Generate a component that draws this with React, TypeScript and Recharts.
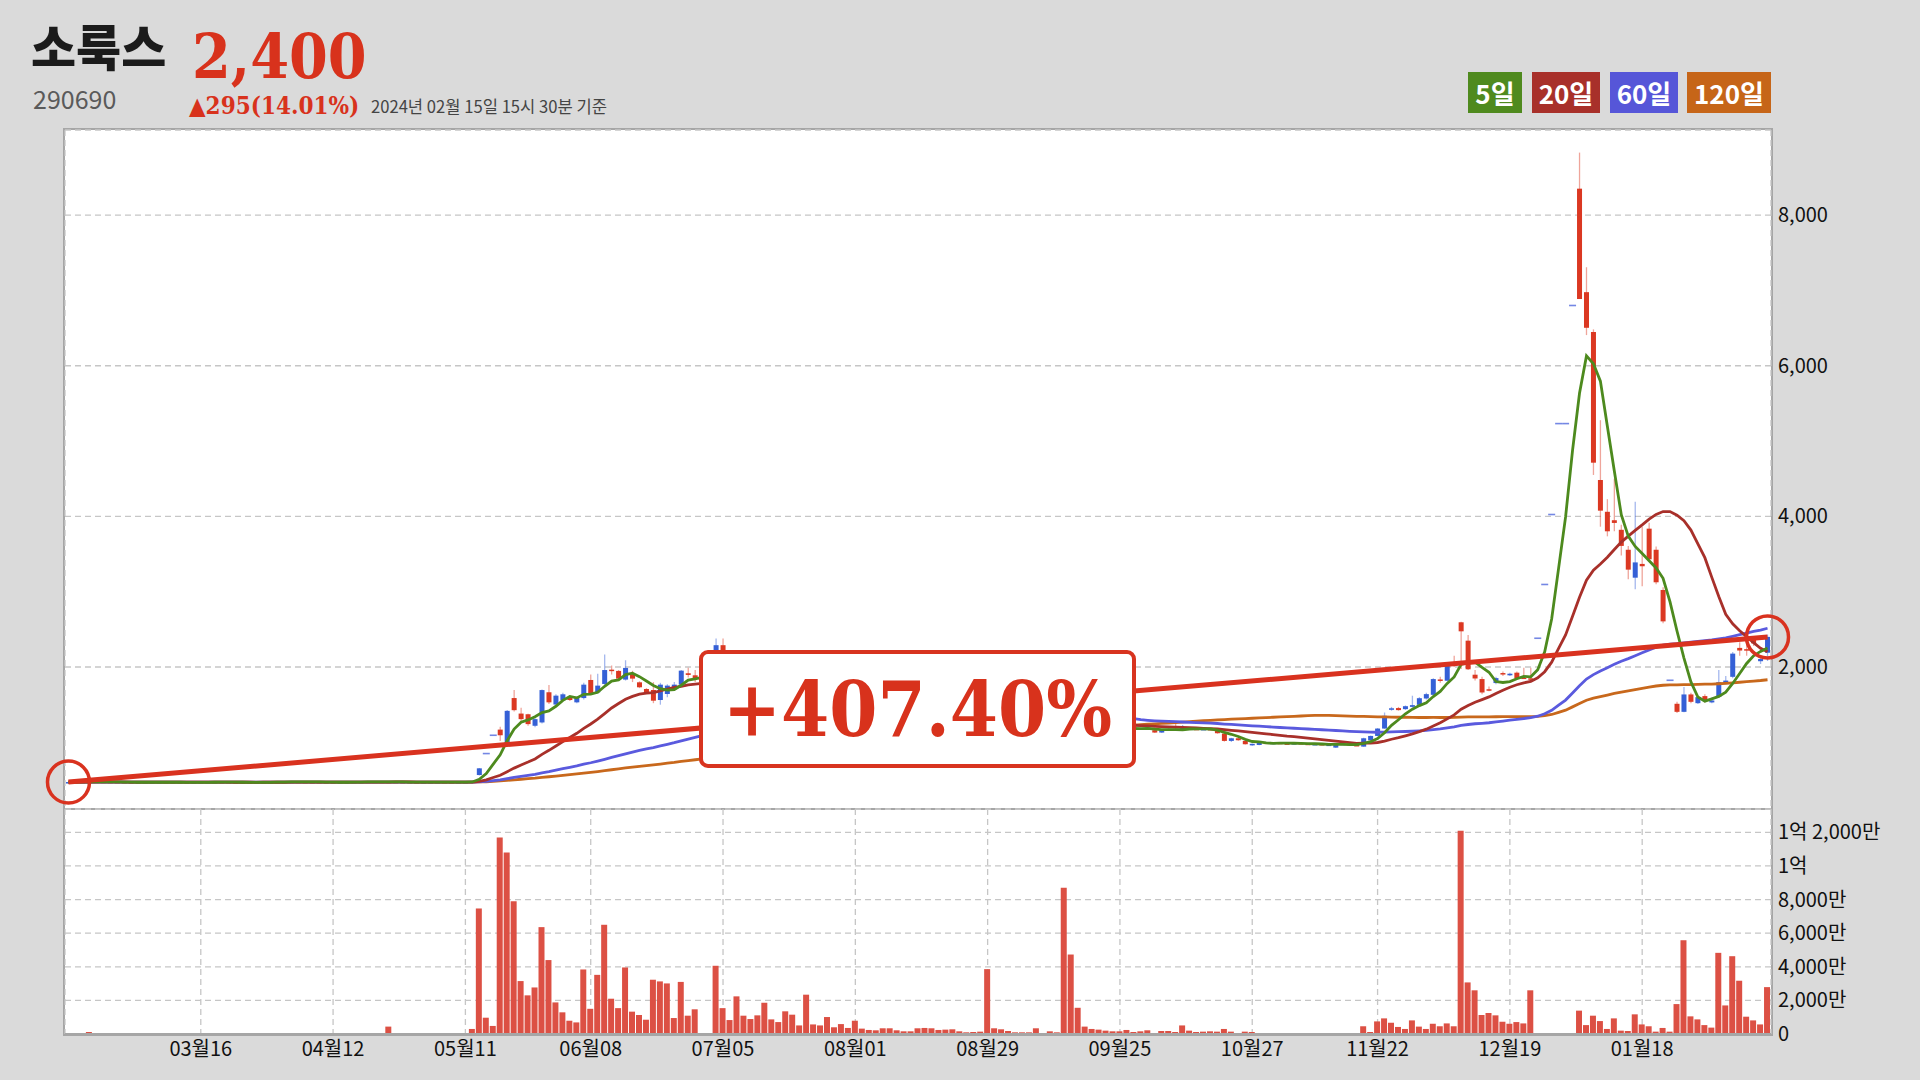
import React from 'react';
import {
  ComposedChart, Bar, Line, XAxis, YAxis, CartesianGrid, ReferenceLine, ReferenceDot,
} from 'recharts';

// x axis: trading-day index -> label
const tickIdx = [19, 38, 57, 75, 94, 113, 132, 151, 170, 188, 207, 226];
const tickLabels = ['03월16', '04월12', '05월11', '06월08', '07월05', '08월01', '08월29', '09월25', '10월27', '11월22', '12월19', '01월18'];
const priceTicks = [2000, 4000, 6000, 8000];
const volTicks = [0, 2000, 4000, 6000, 8000, 10000, 12000]; // 만주

// 2023-02-16 ~ 2024-02-15, daily OHLC
const opens = [
  472, 473, 474, 476, 478, 477, 475, 473, 472, 470, 469, 468, 470, 471, 472, 470, 469, 467, 466, 468,
  470, 471, 473, 472, 470, 469, 468, 467, 469, 471, 472, 474, 476, 477, 475, 473, 472, 471, 470, 469,
  470, 472, 474, 476, 477, 478, 476, 474, 473, 472, 471, 470, 471, 472, 473, 472, 471, 472,
  473, 566, 851, 1094, 1169, 975, 1588, 1382, 1373, 1220, 1264, 1665, 1502, 1560, 1598, 1531, 1588, 1828, 1664, 1775,
  1965, 1948, 1833, 1906, 1797, 1708, 1695, 1562, 1642, 1731, 1766, 1917, 1890, 1846, 1846, 1900, 2290, 1950, 1700, 1560,
  1450, 1400, 1390, 1440, 1420, 1400, 1430, 1390, 1370, 1420, 1380, 1360, 1380, 1350, 1340, 1330, 1320, 1300, 1290, 1280,
  1290, 1300, 1280, 1270, 1265, 1290, 1280, 1290, 1270, 1260, 1255, 1250, 1245, 1240, 1245, 1350, 1310, 1280, 1270, 1255,
  1245, 1240, 1250, 1240, 1230, 1225, 1320, 1260, 1215, 1200, 1195, 1190, 1185, 1180, 1180, 1190, 1185, 1174, 1161, 1130,
  1165, 1180, 1178, 1190, 1180, 1172, 1178, 1152, 1116, 1019, 1054, 1019, 965, 965, 997, 988, 994, 986, 980, 990,
  982, 975, 978, 965, 930, 975, 982, 965, 943, 1028, 1085, 1183, 1445, 1455, 1441, 1471, 1498, 1582, 1631, 1835,
  1818, 2062, 2594, 2350, 1898, 1840, 1705, 1787, 1920, 1890, 1925, 1860, 1850, 2382, 3096, 4025, 5232, 5232, 6800, 8351,
  6977, 6448, 4483, 4061, 3949, 3822, 3557, 3186, 3369, 3837, 3557, 3023, 1824, 1512, 1405, 1636, 1520, 1614, 1530, 1604,
  1790, 1870, 2254, 2237, 2373, 2077, 2190,
];
const highs = [
  475, 476, 478, 480, 480, 479, 477, 475, 474, 472, 471, 472, 473, 474, 474, 472, 471, 469, 470, 472,
  473, 475, 475, 474, 472, 471, 470, 471, 473, 474, 476, 478, 479, 479, 477, 475, 474, 473, 472, 472,
  474, 476, 478, 479, 480, 480, 478, 476, 475, 474, 473, 473, 474, 475, 475, 474, 474, 475,
  482, 660, 851, 1094, 1208, 1430, 1694, 1460, 1380, 1320, 1700, 1760, 1640, 1660, 1620, 1610, 1790, 1900, 1910, 2166,
  2020, 1960, 2090, 1950, 1810, 1720, 1800, 1790, 1770, 1800, 1960, 1990, 1960, 1846, 1846, 2380, 2380, 1980, 1760, 1600,
  1480, 1420, 1520, 1460, 1440, 1450, 1440, 1400, 1480, 1430, 1390, 1400, 1390, 1370, 1350, 1360, 1330, 1310, 1300, 1300,
  1310, 1305, 1290, 1280, 1300, 1300, 1300, 1295, 1280, 1270, 1260, 1255, 1250, 1250, 1420, 1360, 1320, 1290, 1275, 1260,
  1250, 1270, 1255, 1245, 1235, 1450, 1360, 1270, 1225, 1210, 1205, 1195, 1190, 1190, 1200, 1195, 1195, 1200, 1170, 1170,
  1185, 1265, 1230, 1200, 1190, 1185, 1185, 1160, 1120, 1060, 1060, 1025, 985, 1000, 1005, 1000, 1000, 992, 995, 998,
  990, 985, 982, 975, 980, 990, 988, 975, 1060, 1090, 1190, 1396, 1470, 1470, 1490, 1619, 1600, 1660, 1850, 1870,
  2030, 2150, 2600, 2426, 1960, 1870, 1740, 1870, 1940, 1925, 1940, 1990, 1990, 2382, 3096, 4025, 5232, 5232, 6800, 8830,
  7308, 6483, 5277, 4229, 4499, 3888, 3608, 4193, 3863, 3914, 3600, 3060, 1824, 1540, 1734, 1660, 1620, 1640, 1600, 1959,
  1880, 2200, 2330, 2290, 2400, 2140, 2430,
];
const lows = [
  470, 471, 472, 474, 475, 473, 471, 470, 468, 467, 466, 466, 468, 469, 468, 467, 465, 464, 464, 466,
  468, 469, 470, 468, 467, 466, 465, 465, 467, 469, 470, 472, 474, 473, 471, 470, 469, 468, 467, 467,
  468, 470, 472, 474, 475, 474, 472, 471, 470, 469, 468, 468, 469, 470, 470, 469, 469, 470,
  471, 560, 851, 1094, 1019, 960, 1410, 1270, 1220, 1200, 1250, 1510, 1490, 1545, 1550, 1520, 1570, 1630, 1650, 1760,
  1900, 1820, 1820, 1800, 1720, 1650, 1520, 1500, 1600, 1700, 1750, 1860, 1800, 1846, 1846, 1880, 1900, 1680, 1520, 1430,
  1390, 1360, 1380, 1400, 1390, 1390, 1380, 1360, 1360, 1370, 1350, 1340, 1340, 1330, 1320, 1310, 1290, 1280, 1270, 1270,
  1280, 1270, 1260, 1260, 1260, 1270, 1270, 1260, 1255, 1250, 1240, 1240, 1235, 1235, 1240, 1300, 1275, 1265, 1250, 1240,
  1235, 1235, 1235, 1225, 1220, 1220, 1250, 1210, 1195, 1190, 1185, 1180, 1175, 1175, 1175, 1180, 1175, 1170, 1125, 1125,
  1160, 1170, 1170, 1170, 1165, 1165, 1160, 1115, 1010, 1005, 1020, 970, 955, 960, 980, 980, 982, 975, 975, 978,
  970, 965, 960, 955, 925, 965, 960, 950, 940, 1020, 1080, 1180, 1420, 1420, 1430, 1460, 1490, 1570, 1620, 1790,
  1810, 2000, 1973, 1960, 1820, 1640, 1680, 1770, 1880, 1880, 1830, 1840, 1820, 2382, 3096, 4025, 5232, 5232, 6800, 6886,
  6407, 4550, 3863, 3735, 3802, 3481, 3165, 3033, 3074, 3400, 3100, 2580, 1824, 1390, 1400, 1520, 1510, 1530, 1520, 1590,
  1770, 1850, 2150, 2150, 2280, 2040, 2080,
];
const closes = [
  473, 474, 476, 478, 477, 475, 473, 472, 470, 469, 468, 470, 471, 472, 470, 469, 467, 466, 468, 470,
  471, 473, 472, 470, 469, 468, 467, 469, 471, 472, 474, 476, 477, 475, 473, 472, 471, 470, 469, 470,
  472, 474, 476, 477, 478, 476, 474, 473, 472, 471, 470, 471, 472, 473, 472, 471, 472, 473,
  480, 655, 851, 1094, 1094, 1418, 1427, 1308, 1242, 1308, 1694, 1531, 1620, 1638, 1562, 1598, 1766, 1642, 1753, 1960,
  1950, 1846, 1988, 1846, 1731, 1664, 1553, 1766, 1753, 1766, 1952, 1895, 1846, 1846, 1846, 2290, 1950, 1700, 1550, 1450,
  1400, 1380, 1450, 1420, 1400, 1430, 1390, 1370, 1420, 1380, 1360, 1380, 1350, 1340, 1330, 1320, 1300, 1290, 1280, 1290,
  1300, 1280, 1270, 1265, 1290, 1280, 1290, 1270, 1260, 1255, 1250, 1245, 1240, 1245, 1350, 1310, 1280, 1270, 1255, 1245,
  1240, 1250, 1240, 1230, 1225, 1320, 1260, 1215, 1200, 1195, 1190, 1185, 1180, 1180, 1190, 1185, 1180, 1196, 1130, 1161,
  1175, 1178, 1190, 1180, 1172, 1178, 1165, 1121, 1019, 1054, 1028, 975, 980, 997, 988, 994, 986, 980, 990, 982,
  975, 978, 965, 970, 975, 982, 965, 960, 1054, 1085, 1183, 1352, 1452, 1428, 1480, 1494, 1586, 1640, 1840, 1825,
  2017, 2017, 2474, 1970, 1848, 1662, 1700, 1853, 1910, 1911, 1849, 1850, 1832, 2382, 3096, 4025, 5232, 5232, 6800, 6886,
  6504, 4713, 4076, 3802, 3913, 3608, 3293, 3389, 3338, 3430, 3125, 2606, 1824, 1405, 1636, 1538, 1600, 1556, 1556, 1799,
  1820, 2178, 2219, 2219, 2314, 2106, 2400,
];
// 거래량, 만주 단위
const volumes = [
  30, 20, 40, 120, 30, 20, 25, 15, 20, 30, 20, 15, 25, 30, 20, 15, 20, 25, 30, 20,
  25, 40, 20, 30, 35, 60, 25, 20, 30, 40, 55, 30, 25, 20, 30, 25, 20, 30, 25, 20,
  30, 25, 35, 20, 30, 25, 440, 30, 20, 25, 20, 30, 25, 20, 15, 20, 25, 30,
  300, 7470, 970, 480, 11700, 10800, 7900, 3150, 2300, 2770, 6360, 4400, 1880, 1290, 790, 690, 3840, 1500, 3520, 6500,
  2100, 1540, 3960, 1330, 1130, 850, 3230, 3130, 3010, 950, 3100, 1090, 1470, 0, 0, 4060, 1540, 830, 2240, 1090,
  890, 1110, 1860, 870, 710, 1350, 1150, 510, 2340, 570, 510, 1010, 400, 590, 360, 790, 320, 240, 220, 340,
  340, 220, 160, 160, 340, 360, 340, 240, 260, 280, 160, 100, 120, 140, 3860, 340, 280, 180, 100, 100,
  100, 340, 60, 160, 100, 8700, 4730, 1560, 440, 300, 260, 200, 160, 160, 240, 120, 160, 220, 60, 180,
  180, 120, 510, 200, 120, 140, 160, 140, 300, 140, 60, 140, 120, 40, 40, 30, 30, 30, 40, 40,
  30, 40, 30, 40, 30, 30, 40, 40, 460, 120, 750, 930, 670, 420, 300, 810, 440, 300, 610, 460,
  630, 460, 12100, 3070, 2600, 1130, 1250, 1110, 730, 610, 710, 630, 2600, 0, 0, 0, 0, 0, 20, 1390,
  530, 1090, 770, 300, 930, 200, 180, 1170, 570, 460, 140, 360, 140, 1780, 5580, 1050, 870, 530, 380, 4830,
  1700, 4630, 3170, 1030, 810, 570, 2790,
];

const movingAvg = (src: number[], n: number) =>
  src.map((_, i) => {
    let s = 0;
    for (let k = i - n + 1; k <= i; k++) s += src[Math.max(k, 0)];
    return Math.round(s / n);
  });

const ma5 = movingAvg(closes, 5);
const ma20 = movingAvg(closes, 20);
const ma60 = movingAvg(closes, 60);
const ma120 = movingAvg(closes, 120);

const rows = closes.map((c, i) => ({
  i, o: opens[i], h: highs[i], l: lows[i], c, v: volumes[i],
  ma5: ma5[i], ma20: ma20[i], ma60: ma60[i], ma120: ma120[i],
}));

const last = rows.length - 1;
const UP = '#3560d6';
const DOWN = '#db3822';
const TREND = '#d9321f';
const SANS = "'Noto Sans CJK KR', 'Noto Sans', sans-serif";
const SERIF = "'DejaVu Serif Condensed', 'DejaVu Serif', serif";

const labelOf = (v: number) => tickLabels[tickIdx.indexOf(v)] ?? '';
const volLabel = (v: number) => {
  if (v === 0) return '0';
  const eok = Math.floor(v / 10000);
  const man = v % 10000;
  const manTxt = man ? `${man.toLocaleString()}만` : '';
  return eok ? `${eok}억${manTxt ? ' ' + manTxt : ''}` : manTxt;
};

const Candle = (props: any) => {
  const { x, y, width, height, payload } = props;
  const { o, h, l, c } = payload;
  const cx = x + width / 2;
  if (h - l < 1) {
    const yy = y + height / 2;
    return <line x1={x - 1} x2={x + width + 1} y1={yy} y2={yy} stroke="#7487e4" strokeWidth={1.6} />;
  }
  const pix = (v: number) => y + ((h - v) / (h - l)) * height;
  const up = c >= o;
  const top = pix(Math.max(o, c));
  const bh = Math.max(1.5, pix(Math.min(o, c)) - top);
  const col = up ? UP : DOWN;
  return (
    <g>
      <line x1={cx} x2={cx} y1={y} y2={y + height} stroke={col} strokeOpacity={0.45} strokeWidth={1.3} />
      <rect x={x} y={top} width={width} height={bh} fill={col} />
    </g>
  );
};

const legend = [
  { t: '5일', bg: '#4f8a1e', left: 1468, w: 54 },
  { t: '20일', bg: '#a8302a', left: 1532, w: 68 },
  { t: '60일', bg: '#5656d8', left: 1610, w: 68 },
  { t: '120일', bg: '#c66518', left: 1687, w: 84 },
];

const gridProps = { stroke: '#c6c6c6', strokeDasharray: '6 4', strokeWidth: 1.3 };

export default function App() {
  return (
    <div style={{ position: 'absolute', left: 0, top: 0, width: 1920, height: 1080, background: '#dadada', overflow: 'hidden' }}>
      {/* header */}
      <div style={{ position: 'absolute', left: 31, top: 23, fontFamily: SANS, fontWeight: 900, fontSize: 49, lineHeight: '44px', color: '#1b1b1b' }}>소룩스</div>
      <div style={{ position: 'absolute', left: 192, top: 28, fontFamily: SERIF, fontStretch: 'condensed', fontWeight: 700, fontSize: 62, lineHeight: '58px', color: '#d8321c' }}>2,400</div>
      <div style={{ position: 'absolute', left: 33, top: 88, fontFamily: SANS, fontSize: 25, lineHeight: '20px', color: '#5a5a5a' }}>290690</div>
      <div style={{ position: 'absolute', left: 189, top: 96, fontFamily: SERIF, fontStretch: 'condensed', fontWeight: 700, fontSize: 24, lineHeight: '20px', color: '#d8321c' }}>▲295(14.01%)</div>
      <div style={{ position: 'absolute', left: 371, top: 98, fontFamily: SANS, fontSize: 16.6, lineHeight: '16px', color: '#444' }}>2024년 02월 15일 15시 30분 기준</div>
      {legend.map((d) => (
        <div key={d.t} style={{ position: 'absolute', left: d.left, top: 72, width: d.w, height: 41, background: d.bg, color: '#fff', fontFamily: SANS, fontWeight: 700, fontSize: 26, lineHeight: '41px', textAlign: 'center' }}>{d.t}</div>
      ))}

      {/* plot frame */}
      <div style={{ position: 'absolute', left: 63, top: 128, width: 1706, height: 904, background: '#fff', border: '2px solid #a6a6a6' }} />
      <div style={{ position: 'absolute', left: 65, top: 808, width: 1706, height: 2, background: '#a6a6a6' }} />

      {/* price panel */}
      <div style={{ position: 'absolute', left: 0, top: 0 }}>
        <ComposedChart width={1920} height={810} data={rows} margin={{ top: 130, right: 19, left: 65, bottom: 0 }} style={{ overflow: 'visible' }}>
          <CartesianGrid {...gridProps} />
          <XAxis dataKey="i" type="category" ticks={tickIdx} interval={0} tick={false} tickLine={false} axisLine={false} height={1} />
          <YAxis orientation="right" domain={[115, 9130]} ticks={priceTicks} allowDataOverflow width={130}
            tickLine={false} axisLine={false} tickMargin={1}
            tick={{ fill: '#111', fontSize: 20, fontFamily: SANS }}
            tickFormatter={(v: number) => v.toLocaleString()} />
          <Bar dataKey={(d: any) => (d.h - d.l < 1 ? [d.l - 1, d.h + 1] : [d.l, d.h])} barSize={5} shape={Candle} isAnimationActive={false} />
          <Line dataKey="ma120" stroke="#c8681c" strokeWidth={2.8} dot={false} isAnimationActive={false} />
          <Line dataKey="ma60" stroke="#5a5ade" strokeWidth={2.8} dot={false} isAnimationActive={false} />
          <Line dataKey="ma20" stroke="#a8302a" strokeWidth={2.8} dot={false} isAnimationActive={false} />
          <Line dataKey="ma5" stroke="#4d8a1e" strokeWidth={2.8} dot={false} isAnimationActive={false} />
          <ReferenceLine segment={[{ x: 0, y: closes[0] }, { x: last, y: closes[last] }]} stroke={TREND} strokeWidth={5} ifOverflow="visible" />
          <ReferenceDot x={0} y={closes[0]} r={21} fill="none" stroke={TREND} strokeWidth={3.5} ifOverflow="visible" />
          <ReferenceDot x={last} y={closes[last]} r={21} fill="none" stroke={TREND} strokeWidth={3.5} ifOverflow="visible" />
        </ComposedChart>
      </div>

      {/* volume panel */}
      <div style={{ position: 'absolute', left: 0, top: 809 }}>
        <ComposedChart width={1920} height={265} data={rows} margin={{ top: 0, right: 19, left: 65, bottom: 0 }}>
          <CartesianGrid {...gridProps} />
          <XAxis dataKey="i" type="category" ticks={tickIdx} interval={0} height={40}
            tickLine={false} tickSize={4} tickMargin={4}
            axisLine={{ stroke: '#a6a6a6', strokeWidth: 2 }}
            tick={{ fill: '#111', fontSize: 20, fontFamily: SANS }}
            tickFormatter={labelOf} />
          <YAxis orientation="right" domain={[0, 13390]} ticks={volTicks} allowDataOverflow width={130}
            tickLine={false} axisLine={false} tickMargin={1}
            tick={{ fill: '#111', fontSize: 20, fontFamily: SANS }}
            tickFormatter={volLabel} />
          <Bar dataKey="v" fill="#dc5044" barSize={6} isAnimationActive={false} />
        </ComposedChart>
      </div>

      {/* return badge */}
      <div style={{ position: 'absolute', left: 699, top: 650, width: 437, height: 118, boxSizing: 'border-box', border: '4px solid #d8341f', borderRadius: 9, background: '#fff', color: '#d8321c', fontFamily: SERIF, fontStretch: 'condensed', fontWeight: 700, fontSize: 77, lineHeight: '110px', textAlign: 'center' }}>+407.40%</div>
    </div>
  );
}
